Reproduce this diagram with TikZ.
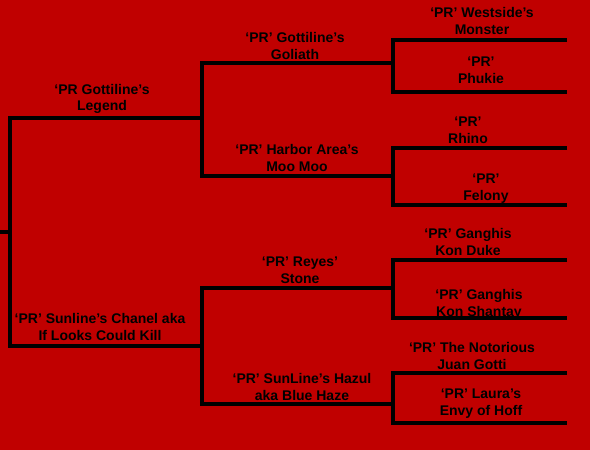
\documentclass[tikz,border=0pt]{standalone}
\usepackage{fontspec}
\setmainfont{Liberation Sans}
\begin{document}
\begin{tikzpicture}[x=1pt,y=-1pt,
  lbl/.style={font=\bfseries\fontsize{14}{16.8}\selectfont, align=center, inner sep=0pt, text=black, yshift=-1.5pt},
  bline/.style={line width=3.2pt, black, line join=miter}]
\useasboundingbox[fill={rgb,255:red,192;green,0;blue,0}] (0,0) rectangle (590,450);
% coordinates
\coordinate (root) at (0,232);
\coordinate (v0t) at (10,118); \coordinate (v0b) at (10,346); \coordinate (v0m) at (10,232);
\coordinate (a1) at (202,118); \coordinate (a2) at (202,346);
\coordinate (b1) at (393,63); \coordinate (b1v) at (202,63);
\coordinate (b2) at (393,176); \coordinate (b2v) at (202,176);
\coordinate (b3) at (393,288); \coordinate (b3v) at (202,288);
\coordinate (b4) at (393,404); \coordinate (b4v) at (202,404);
\foreach \n/\t/\b in {1/40/92, 2/148/205, 3/260/318, 4/373/423}{
  \coordinate (c\n t) at (567,\t); \coordinate (c\n tv) at (393,\t);
  \coordinate (c\n b) at (567,\b); \coordinate (c\n bv) at (393,\b);
}
% lines
\draw[bline] (root) -- (v0m);
\draw[bline] (a1) -- (v0t) -- (v0b) -- (a2);
\draw[bline] (b1) -- (b1v) -- (b2v) -- (b2);
\draw[bline] (b3) -- (b3v) -- (b4v) -- (b4);
\foreach \n in {1,2,3,4}{
  \draw[bline] (c\n t) -- (c\n tv) -- (c\n bv) -- (c\n b);
}
% labels
\node[lbl] (legend) at (102,97.5) {‘PR Gottiline’s\\Legend};
\node[lbl] (chanel) at (100,325.5) {‘PR’ Sunline’s Chanel aka\\If Looks Could Kill};
\node[lbl] (goliath) at (295,44.5) {‘PR’ Gottiline’s\\Goliath};
\node[lbl] (moomoo) at (297,156.5) {‘PR’ Harbor Area’s\\Moo Moo};
\node[lbl] (stone) at (300,268.5) {‘PR’ Reyes’\\Stone};
\node[lbl] (hazul) at (302,385.5) {‘PR’ SunLine’s Hazul\\aka Blue Haze};
\node[lbl] (monster) at (482,19.5) {‘PR’ Westside’s\\Monster};
\node[lbl] (phukie) at (481,69) {‘PR’\\Phukie};
\node[lbl] (rhino) at (468,128.5) {‘PR’\\Rhino};
\node[lbl] (felony) at (486,187) {‘PR’\\Felony};
\node[lbl] (duke) at (468,240.5) {‘PR’ Ganghis\\Kon Duke};
\node[lbl] (shantay) at (479,302.5) {‘PR’ Ganghis\\Kon Shantay};
\node[lbl] (gotti) at (472,354.5) {‘PR’ The Notorious\\Juan Gotti};
\node[lbl] (laura) at (481,402.5) {‘PR’ Laura’s\\Envy of Hoff};
\end{tikzpicture}
\end{document}
